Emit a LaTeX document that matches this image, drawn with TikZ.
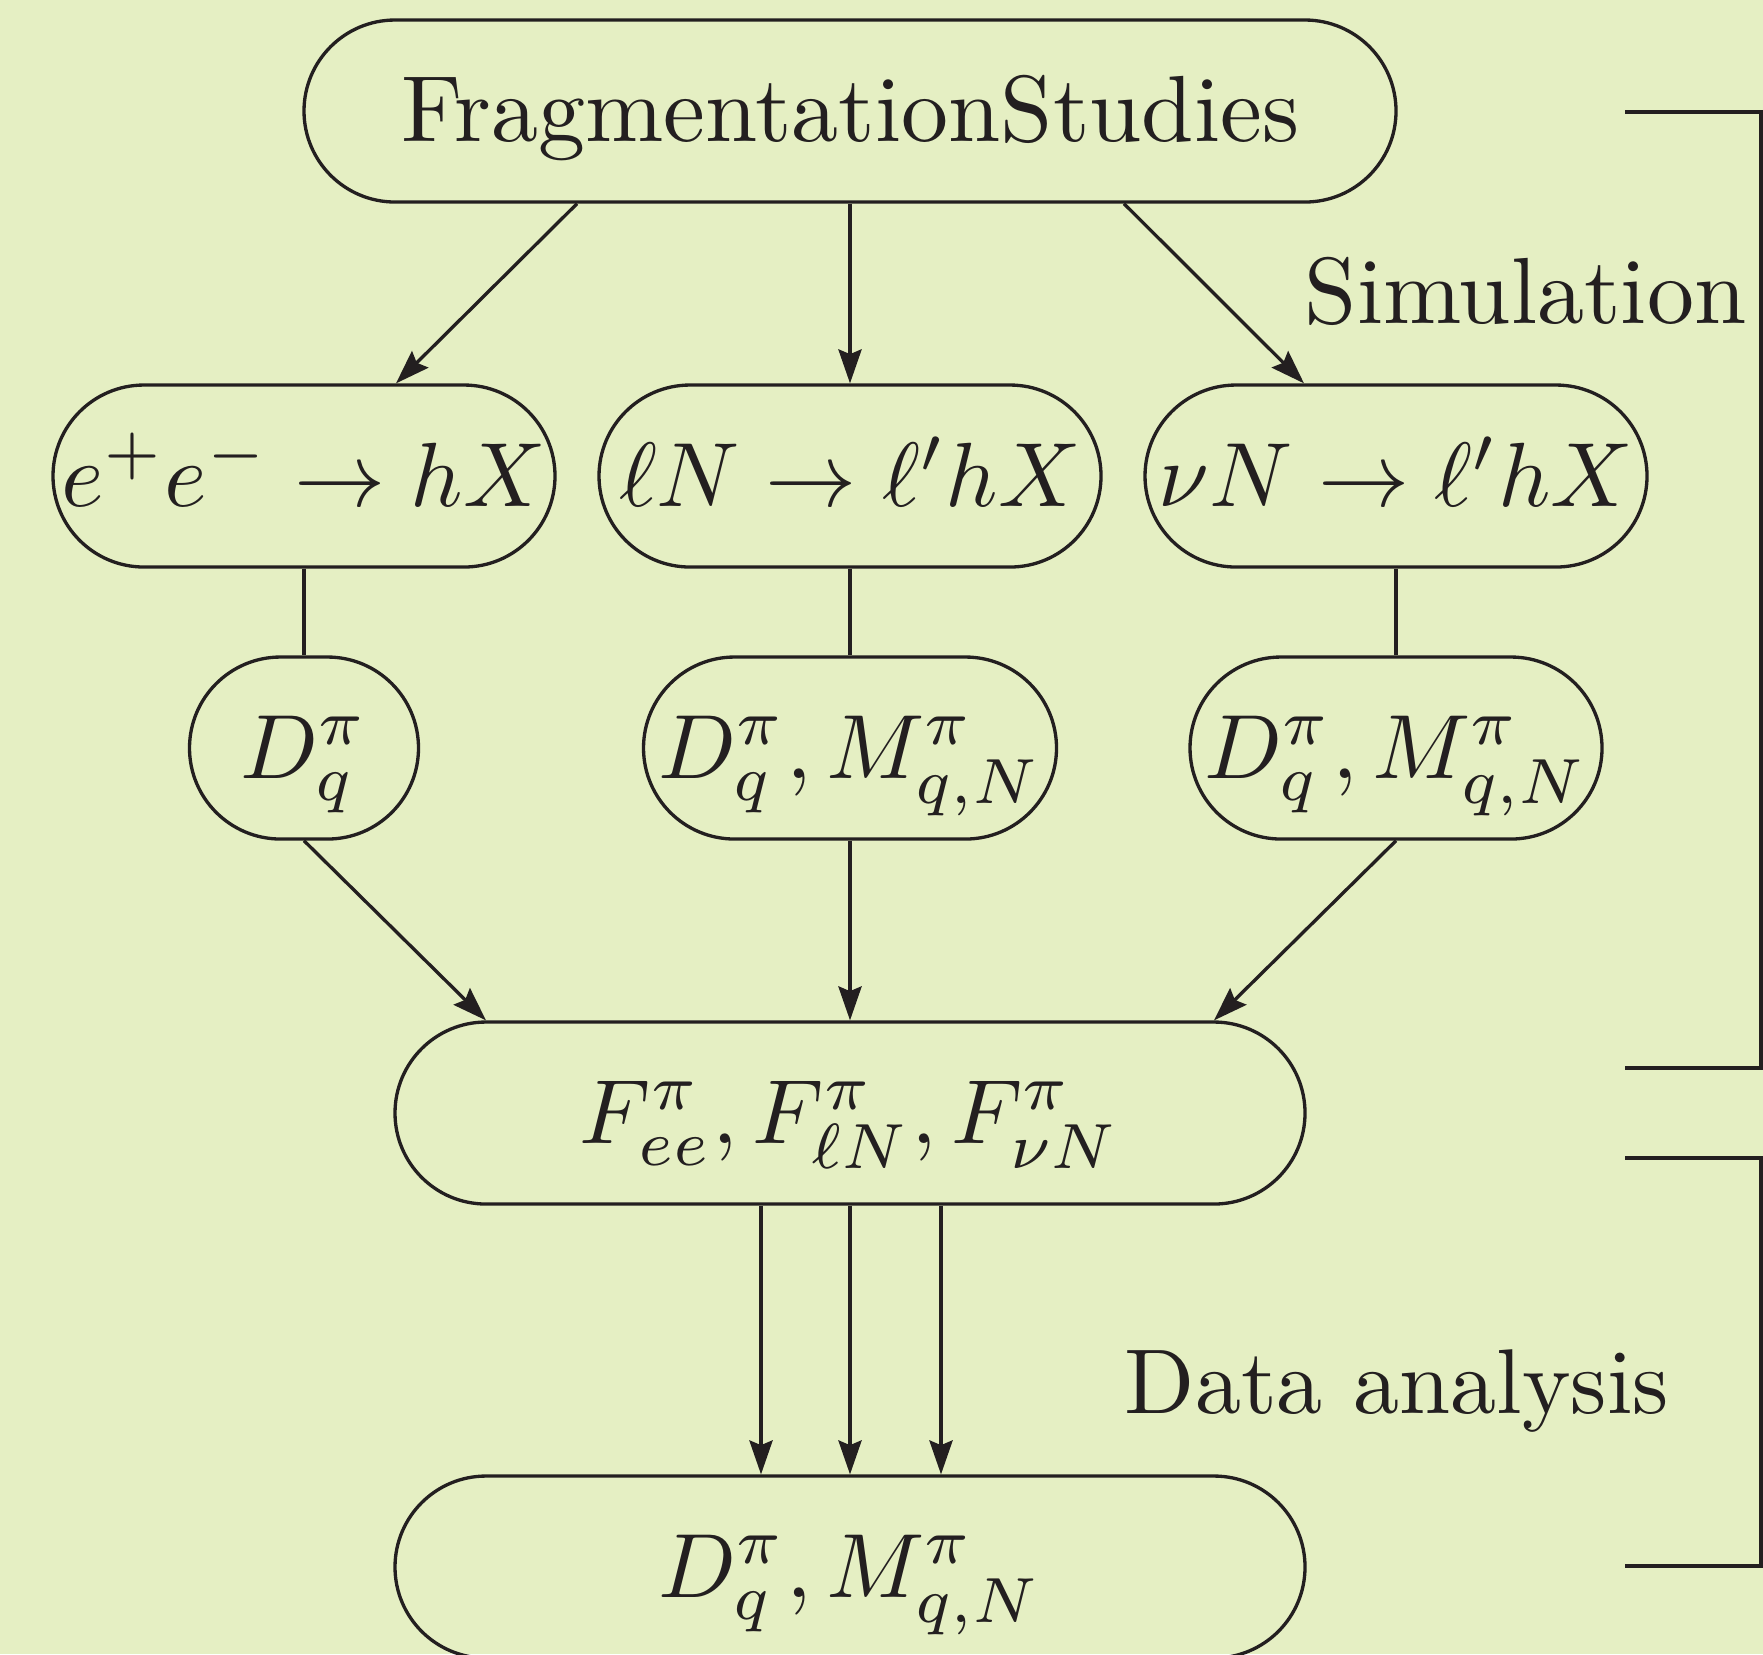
\RequirePackage{fix-cm}
\documentclass[tikz,border=0pt]{standalone}
\usepackage{graphicx}
\usetikzlibrary{arrows.meta,calc}
\definecolor{bg}{HTML}{E5EFC3}
\definecolor{ink}{HTML}{231F20}
\newcommand\bigtxt[1]{\scalebox{2.35}{#1}}
\newcommand\bigmath[1]{\scalebox{2.28}{$#1$}}
\tikzset{
  box/.style={draw=ink, line width=0.83pt, rounded corners=22.75pt,
    minimum height=45.5pt, inner sep=0pt, text=ink,
    text height=20pt, text depth=5pt,
    font=\fontsize{10}{12}\selectfont},
  lbl/.style={text=ink, inner sep=0pt, font=\fontsize{10}{12}\selectfont},
  conn/.style={draw=ink, line width=0.83pt},
  arr/.style={conn, -{Stealth[length=8.5pt,width=5.8pt,inset=1.2pt]}},
  brk/.style={draw=ink, line width=0.85pt}
}
\begin{document}
\begin{tikzpicture}[x=0.25pt,y=-0.25pt]
\fill[bg] (0,0) rectangle (1763,1654);
\useasboundingbox (0,0) rectangle (1763,1654);

\node[box, minimum width=273pt] (top) at (850,111) {\bigtxt{FragmentationStudies}};

\node[box, minimum width=125.5pt] (ee) at (304,476) {\bigmath{e^+e^-\to hX}};
\node[box, minimum width=125.5pt] (lN) at (850,476) {\bigmath{\ell N\to \ell' hX}};
\node[box, minimum width=125.5pt] (nN) at (1396,476) {\bigmath{\nu N\to \ell' hX}};

\node[box, minimum width=57.25pt] (d1) at (304,748) {\bigmath{D_q^\pi}};
\node[box, minimum width=103.25pt] (d2) at (850,748) {\bigmath{D_q^\pi, M_{q,N}^\pi}};
\node[box, minimum width=103pt] (d3) at (1396,748) {\bigmath{D_q^\pi, M_{q,N}^\pi}};

\node[box, minimum width=227.5pt] (F) at (850,1113) {\bigmath{F_{ee}^\pi, F_{\ell N}^\pi, F_{\nu N}^\pi}};

\node[box, minimum width=227.5pt] (res) at (850,1567) {\bigmath{D_q^\pi, M_{q,N}^\pi}};

\draw[arr] ($(top.south)+(-273,0)$) -- ($(ee.north)+(92,0)$);
\draw[arr] (top.south) -- (lN.north);
\draw[arr] ($(top.south)+(274,0)$) -- ($(nN.north)+(-92,0)$);

\draw[conn] (ee.south) -- (d1.north);
\draw[conn] (lN.south) -- (d2.north);
\draw[conn] (nN.south) -- (d3.north);

\draw[arr] (d1.south) -- ($(F.north)+(-364,0)$);
\draw[arr] (d2.south) -- (F.north);
\draw[arr] (d3.south) -- ($(F.north)+(364,0)$);

\draw[arr] ($(F.south)+(-89,0)$) -- ($(res.north)+(-89,0)$);
\draw[arr] (F.south) -- (res.north);
\draw[arr] ($(F.south)+(91,0)$) -- ($(res.north)+(91,0)$);

\node[lbl, anchor=base west] (sim) at (1304,323) {\bigtxt{Simulation}};
\node[lbl, anchor=base west] (data) at (1124,1413) {\scalebox{2.3}{Data analysis}};

\coordinate (s1) at (1625,112);
\coordinate (s2) at (1761,112);
\coordinate (s3) at (1761,1068);
\coordinate (s4) at (1625,1068);
\draw[brk] (s1) -- (s2) -- (s3) -- (s4);
\coordinate (a1) at (1625,1158);
\coordinate (a2) at (1761,1158);
\coordinate (a3) at (1761,1566);
\coordinate (a4) at (1625,1566);
\draw[brk] (a1) -- (a2) -- (a3) -- (a4);
\end{tikzpicture}
\end{document}
